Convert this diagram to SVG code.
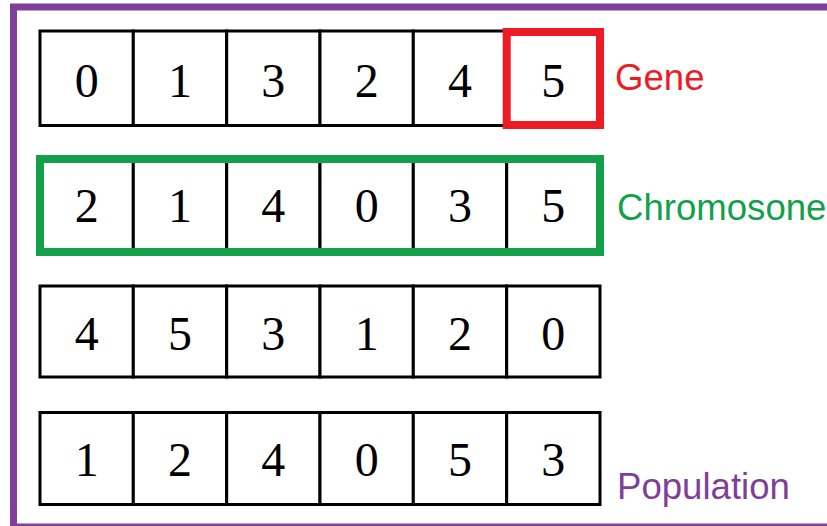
<svg xmlns="http://www.w3.org/2000/svg" width="827" height="526" viewBox="0 0 827 526">
<style>
.cell{fill:#fff;stroke:#000;stroke-width:3}
.d{font-family:"Liberation Serif",serif;font-size:48px;text-anchor:middle;fill:#000}
.lbl{font-family:"Liberation Sans",Arial,sans-serif;font-size:36.6px}
</style>
<rect width="827" height="526" fill="#fff"/>
<g id="population">
<rect x="13.5" y="7" width="820" height="520" fill="none" stroke="#7F3F98" stroke-width="7"/>
<text class="lbl" x="617" y="499" fill="#7F3F98">Population</text>
</g>
<g id="row1">
<rect class="cell" x="40" y="31" width="93.3" height="94.5"/><rect class="cell" x="133.3" y="31" width="93.3" height="94.5"/><rect class="cell" x="226.7" y="31" width="93.3" height="94.5"/><rect class="cell" x="320" y="31" width="93.3" height="94.5"/><rect class="cell" x="413.3" y="31" width="93.3" height="94.5"/><rect class="cell" x="506.7" y="31" width="93.3" height="94.5"/>
<text class="d" x="86.7" y="97">0</text><text class="d" x="180" y="97">1</text><text class="d" x="273.3" y="97">3</text><text class="d" x="366.7" y="97">2</text><text class="d" x="460" y="97">4</text><text class="d" x="553.3" y="97">5</text>
</g>
<g id="gene">
<rect x="506.7" y="32" width="93.3" height="93" fill="none" stroke="#ED1C24" stroke-width="8"/>
<text class="lbl" x="615" y="90" fill="#ED1C24">Gene</text>
</g>
<g id="row2">
<rect class="cell" x="40" y="159" width="93.3" height="93"/><rect class="cell" x="133.3" y="159" width="93.3" height="93"/><rect class="cell" x="226.7" y="159" width="93.3" height="93"/><rect class="cell" x="320" y="159" width="93.3" height="93"/><rect class="cell" x="413.3" y="159" width="93.3" height="93"/><rect class="cell" x="506.7" y="159" width="93.3" height="93"/>
<text class="d" x="86.7" y="222">2</text><text class="d" x="180" y="222">1</text><text class="d" x="273.3" y="222">4</text><text class="d" x="366.7" y="222">0</text><text class="d" x="460" y="222">3</text><text class="d" x="553.3" y="222">5</text>
</g>
<g id="chromosone">
<rect x="40" y="159" width="560" height="93" fill="none" stroke="#12A04A" stroke-width="8"/>
<text class="lbl" x="617" y="220" fill="#12A04A">Chromosone</text>
</g>
<g id="row3">
<rect class="cell" x="40" y="286" width="93.3" height="91"/><rect class="cell" x="133.3" y="286" width="93.3" height="91"/><rect class="cell" x="226.7" y="286" width="93.3" height="91"/><rect class="cell" x="320" y="286" width="93.3" height="91"/><rect class="cell" x="413.3" y="286" width="93.3" height="91"/><rect class="cell" x="506.7" y="286" width="93.3" height="91"/>
<text class="d" x="86.7" y="350">4</text><text class="d" x="180" y="350">5</text><text class="d" x="273.3" y="350">3</text><text class="d" x="366.7" y="350">1</text><text class="d" x="460" y="350">2</text><text class="d" x="553.3" y="350">0</text>
</g>
<g id="row4">
<rect class="cell" x="40" y="412.5" width="93.3" height="92"/><rect class="cell" x="133.3" y="412.5" width="93.3" height="92"/><rect class="cell" x="226.7" y="412.5" width="93.3" height="92"/><rect class="cell" x="320" y="412.5" width="93.3" height="92"/><rect class="cell" x="413.3" y="412.5" width="93.3" height="92"/><rect class="cell" x="506.7" y="412.5" width="93.3" height="92"/>
<text class="d" x="86.7" y="476">1</text><text class="d" x="180" y="476">2</text><text class="d" x="273.3" y="476">4</text><text class="d" x="366.7" y="476">0</text><text class="d" x="460" y="476">5</text><text class="d" x="553.3" y="476">3</text>
</g>
<g id="connectors"/>
</svg>
